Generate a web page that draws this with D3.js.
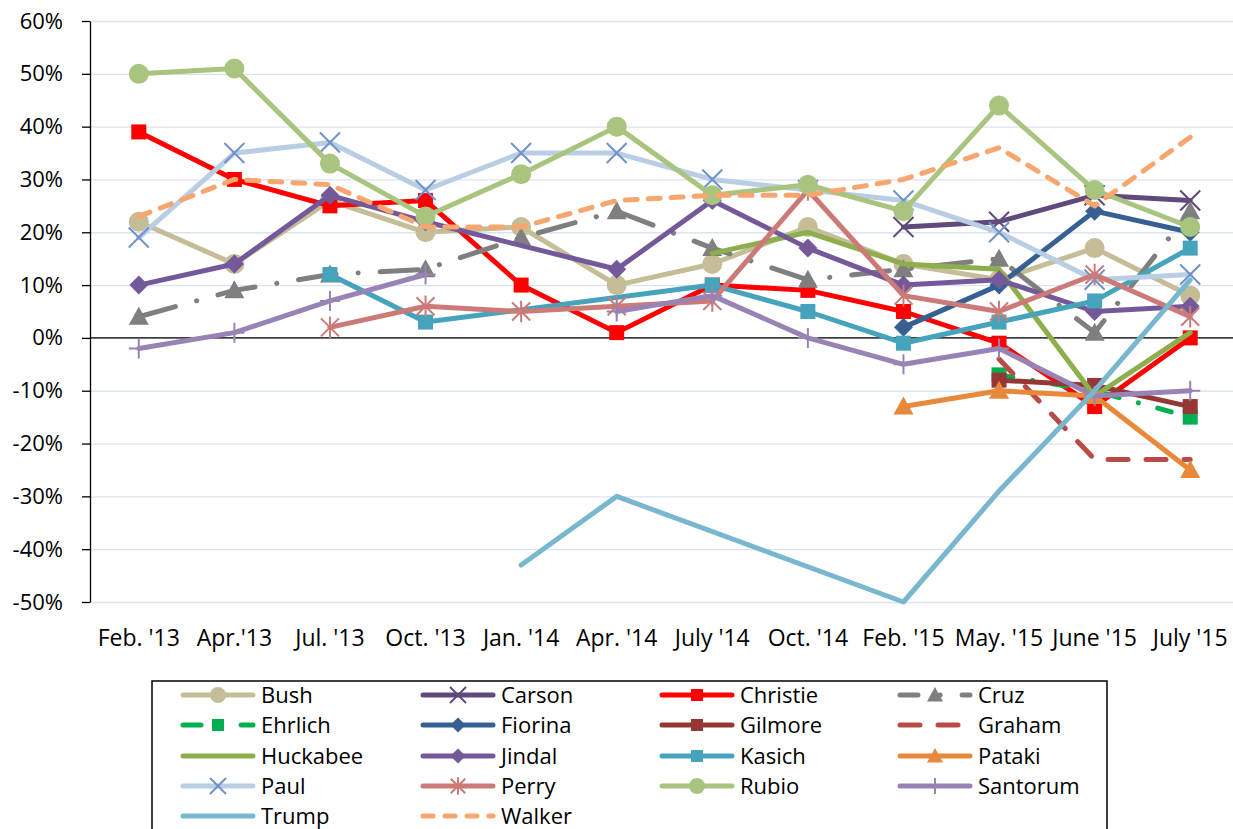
<!DOCTYPE html>
<html>
<head>
<meta charset="utf-8"/>
<title>Candidate net favorability</title>
<style>
body { margin: 0; background: #fff; }
svg text { font-family: "Open Sans", sans-serif; fill: #000; }
.grid line { stroke: #DCE3F0; stroke-width: 1.3; }
.grid path { display: none; }
.axis--y path, .axis--y line { stroke: #000; stroke-width: 1.3; }
.axis--y text { font-size: 22px; }
.xlabel { font-size: 23px; text-anchor: middle; }
.series path.line { fill: none; stroke-linejoin: round; stroke-linecap: round; }
.legend text { font-size: 22px; }
</style>
</head>
<body>
<svg width="1233" height="829"></svg>
<script src="https://d3js.org/d3.v7.min.js"></script>
<script>

// Poll months along the bottom
var months = ["Feb. '13", "Apr.'13", "Jul. '13", "Oct. '13", "Jan. '14", "Apr. '14",
              "July '14", "Oct. '14", "Feb. '15", "May. '15", "June '15", "July '15"];

var yTicks = [60, 50, 40, 30, 20, 10, 0, -10, -20, -30, -40, -50];

var n = null;

// Net favorability (%) for each candidate
var bush     = [22, 14, 26, 20, 21, 10, 14, 21, 14, 11, 17, 8];
var carson   = [n, n, n, n, n, n, n, n, 21, 22, 27, 26];
var christie = [39, 30, 25, 26, 10, 1, 10, 9, 5, -1, -13, 0];
var cruz     = [4, 9, 12, 13, 19, 24, 17, 11, 13, 15, 1, 24];
var ehrlich  = [n, n, n, n, n, n, n, n, n, -7, -10, -15];
var fiorina  = [n, n, n, n, n, n, n, n, 2, 10, 24, 20];
var gilmore  = [n, n, n, n, n, n, n, n, n, -8, -9, -13];
var graham   = [n, n, n, n, n, n, n, n, n, -4, -23, -23];
var huckabee = [n, n, n, n, n, n, 16, 20, 14, 13, -11, 1];
var jindal   = [10, 14, 27, 22, n, 13, 26, 17, 10, 11, 5, 6];
var kasich   = [n, n, 12, 3, n, n, 10, 5, -1, 3, 7, 17];
var pataki   = [n, n, n, n, n, n, n, n, -13, -10, -11, -25];
var paul     = [19, 35, 37, 28, 35, 35, 30, 28, 26, 20, 11, 12];
var perry    = [n, n, 2, 6, 5, 6, 7, 28, 8, 5, 12, 4];
var rubio    = [50, 51, 33, 23, 31, 40, 27, 29, 24, 44, 28, 21];
var santorum = [-2, 1, 7, 12, n, 5, 8, 0, -5, -2, -11, -10];
var trump    = [n, n, n, n, -43, -30, n, n, -50, -29, -10, 11];
var walker   = [23, 30, 29, 21, 21, 26, 27, 27, 30, 36, 25, 38];

var names = ["Bush", "Carson", "Christie", "Cruz", "Ehrlich", "Fiorina", "Gilmore", "Graham", "Huckabee",
             "Jindal", "Kasich", "Pataki", "Paul", "Perry", "Rubio", "Santorum", "Trump", "Walker"];
var values = [bush, carson, christie, cruz, ehrlich, fiorina, gilmore, graham, huckabee,
              jindal, kasich, pataki, paul, perry, rubio, santorum, trump, walker];

// Series whose missing months leave a break in the line
var brokenSeries = ["Santorum"];

// Look of each series: line colour, marker, marker colour, dash
var looks = {
  Bush:     {color: "#C4BD97", marker: "circle"},
  Carson:   {color: "#604A7B", marker: "x"},
  Christie: {color: "#FF0000", marker: "square"},
  Cruz:     {color: "#7F7F7F", marker: "triangle", dash: "38 22 0.1 22"},
  Ehrlich:  {color: "#00B050", marker: "square", dash: "14 20 0.1 20"},
  Fiorina:  {color: "#366092", marker: "diamond"},
  Gilmore:  {color: "#953735", marker: "square"},
  Graham:   {color: "#B94A48", marker: null, dash: "20 18"},
  Huckabee: {color: "#8DAE4A", marker: null},
  Jindal:   {color: "#74599A", marker: "diamond"},
  Kasich:   {color: "#45A3BC", marker: "square"},
  Pataki:   {color: "#E8883A", marker: "triangle"},
  Paul:     {color: "#B9CDE5", marker: "x", markerColor: "#7092C8"},
  Perry:    {color: "#CB7A77", marker: "asterisk"},
  Rubio:    {color: "#A9C47F", marker: "circle"},
  Santorum: {color: "#9983B5", marker: "plus"},
  Trump:    {color: "#78B7CE", marker: null},
  Walker:   {color: "#F7A670", marker: null, dash: "12 11"}
};

var svg = d3.select("svg"),
    margin = {top: 21, left: 90},
    plotWidth = 1143,
    plotHeight = 581,
    g = svg.append("g").attr("transform", "translate(" + margin.left + "," + margin.top + ")");

var x = d3.scalePoint().domain(months).range([1, 1148]).padding(0.5);
var y = d3.scaleLinear().domain([-50, 60]).range([plotHeight, 0]);

// Horizontal gridlines
g.append("g")
    .attr("class", "grid")
    .call(d3.axisLeft(y).tickValues(yTicks).tickSize(-plotWidth).tickFormat(""));

// Zero line
g.append("line")
    .attr("x1", 0).attr("x2", plotWidth)
    .attr("y1", y(0)).attr("y2", y(0))
    .attr("stroke", "#000").attr("stroke-width", 1.3);

// y axis with percent labels
g.append("g")
    .attr("class", "axis axis--y")
    .call(d3.axisLeft(y).tickValues(yTicks).tickSize(8).tickSizeOuter(0).tickPadding(19)
      .tickFormat(function(d) { return d + "%"; }));

// Month labels
g.append("g").selectAll("text")
    .data(months)
    .enter().append("text")
      .attr("class", "xlabel")
      .attr("x", function(d) { return x(d); })
      .attr("y", plotHeight + 44)
      .text(function(d) { return d; });

// Marker shapes
function markerPath(type, s) {
  if (type === "circle") return d3.symbol().type(d3.symbolCircle).size(Math.PI * s * s)();
  if (type === "square") return "M" + (-s) + "," + (-s) + "h" + 2 * s + "v" + 2 * s + "h" + (-2 * s) + "Z";
  if (type === "diamond") return "M0," + (-s) + "L" + s + ",0L0," + s + "L" + (-s) + ",0Z";
  if (type === "triangle") return "M0," + (-s) + "L" + s + "," + (s * 0.8) + "L" + (-s) + "," + (s * 0.8) + "Z";
  if (type === "x") return "M" + (-s) + "," + (-s) + "L" + s + "," + s + "M" + (-s) + "," + s + "L" + s + "," + (-s);
  if (type === "plus") return "M0," + (-s) + "L0," + s + "M" + (-s) + ",0L" + s + ",0";
  if (type === "asterisk") return "M" + (-s) + "," + (-s) + "L" + s + "," + s + "M" + (-s) + "," + s + "L" + s + "," + (-s) + "M0," + (-s * 1.2) + "L0," + (s * 1.2);
  return null;
}

var markerSize = {circle: 10, square: 7.5, diamond: 9.5, triangle: 10, x: 10, plus: 10, asterisk: 9};

function drawMarker(sel, look, scale) {
  var t = look.marker;
  if (!t) return;
  var c = look.markerColor || look.color;
  var stroked = (t === "x" || t === "plus" || t === "asterisk");
  sel.append("path")
      .attr("d", markerPath(t, markerSize[t] * scale))
      .attr("fill", stroked ? "none" : c)
      .attr("stroke", c)
      .attr("stroke-width", stroked ? 2 : 0);
}

var series = names.map(function(name, i) {
  return {name: name, look: looks[name], values: values[i].map(function(v, j) {
    return {month: months[j], value: v};
  })};
});

var line = d3.line()
    .x(function(d) { return x(d.month); })
    .y(function(d) { return y(d.value); });

// Draw each series, line then markers, in order
var groups = g.selectAll(".series")
    .data(series)
    .enter().append("g")
      .attr("class", "series");

groups.append("path")
    .attr("class", "line")
    .attr("d", function(d) {
      if (brokenSeries.indexOf(d.name) >= 0) {
        return line.defined(function(p) { return p.value !== null; })(d.values);
      }
      return line.defined(function() { return true; })(d.values.filter(function(p) { return p.value !== null; }));
    })
    .attr("stroke", function(d) { return d.look.color; })
    .attr("stroke-width", 5)
    .attr("stroke-dasharray", function(d) { return d.look.dash || null; });

groups.each(function(d) {
  var grp = d3.select(this);
  d.values.filter(function(p) { return p.value !== null; }).forEach(function(p) {
    var m = grp.append("g").attr("transform", "translate(" + x(p.month) + "," + y(p.value) + ")");
    drawMarker(m, d.look, 1);
  });
});

// Legend box with four columns
var legend = svg.append("g").attr("class", "legend");
legend.append("rect")
    .attr("x", 152).attr("y", 681)
    .attr("width", 955).attr("height", 170)
    .attr("fill", "none").attr("stroke", "#000").attr("stroke-width", 1.5);

var colX = [183, 423, 662, 900], rowY = [695, 725, 756, 786, 816];

series.forEach(function(d, i) {
  var lx = colX[i % 4], ly = rowY[Math.floor(i / 4)];
  var item = legend.append("g").attr("transform", "translate(" + lx + "," + ly + ")");
  item.append("line")
      .attr("x1", 0).attr("x2", 70)
      .attr("stroke", d.look.color)
      .attr("stroke-width", 5)
      .attr("stroke-linecap", "round")
      .attr("stroke-dasharray", d.look.dash ? (d.name === "Walker" ? "10 12" : d.look.dash.replace("38", "18").replace("14", "18")) : null);
  drawMarker(item.append("g").attr("transform", "translate(35,0)"), d.look, 0.8);
  item.append("text")
      .attr("x", 78)
      .attr("dy", "0.36em")
      .text(d.name);
});

</script>
</body>
</html>
